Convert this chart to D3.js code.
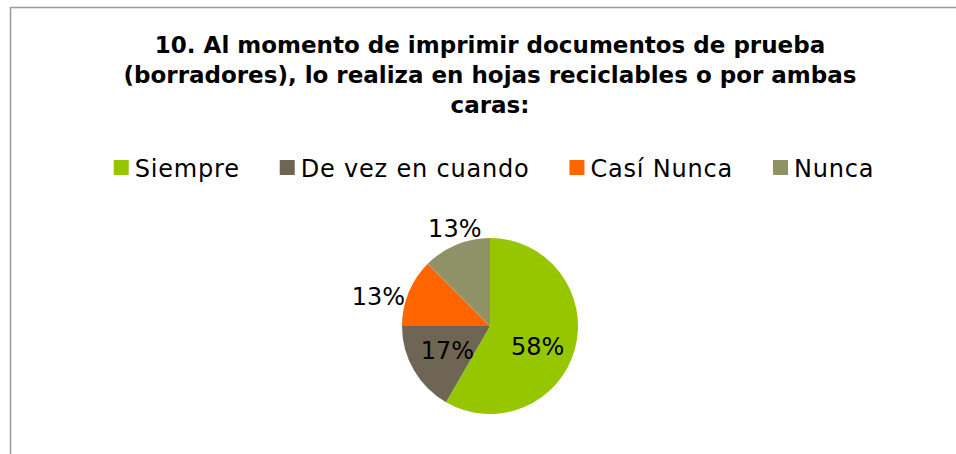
<!DOCTYPE html>
<html>
<head>
<meta charset="utf-8">
<script src="https://cdn.jsdelivr.net/npm/d3@7"></script>
<style>
  body { margin: 0; background: #fff; }
  text { font-family: "DejaVu Sans", sans-serif; fill: #000; }
</style>
</head>
<body>
<script>
// chart data (24 answers)
var categories = ["Siempre", "De vez en cuando", "Casí Nunca", "Nunca"];
var counts = [14, 4, 3, 3];
var colors = ["#95c600", "#6f6554", "#ff6600", "#8f9167"];
var titleLines = ["10. Al momento de imprimir documentos de prueba",
                  "(borradores), lo realiza en hojas reciclables o por ambas",
                  "caras:"];

function main(){
    var w = 956, h = 454;
    var cx = 490, cy = 326, r = 88;

    var svg = d3.select("body").append("svg")
                .attr("width", w)
                .attr("height", h);

    // chart area border (runs off the right and bottom edges)
    svg.append("rect")
       .attr("x", 10.5).attr("y", 7.5)
       .attr("width", 980).attr("height", 500)
       .attr("fill", "none")
       .attr("stroke", "#9a9a9a")
       .attr("stroke-width", 1.5);

    /* title */
    svg.selectAll("text.title")
       .data(titleLines)
       .enter()
       .append("text")
       .attr("class", "title")
       .attr("x", 490)
       .attr("y", (d, i) => 53 + i * 30)
       .attr("text-anchor", "middle")
       .attr("font-size", 23)
       .attr("font-weight", "bold")
       .text(d => d);

    /* legend */
    var leg = svg.append("g").attr("class", "legend");
    var items = leg.selectAll("g")
       .data(categories)
       .enter()
       .append("g");
    items.append("rect")
       .attr("width", 15).attr("height", 15)
       .attr("y", 160)
       .attr("fill", (d, i) => colors[i]);
    items.append("text")
       .attr("x", 21)
       .attr("y", 177)
       .attr("font-size", 24)
       .attr("letter-spacing", 0.8)
       .text(d => d);
    var xpos = 0;
    items.each(function(){
        var g = d3.select(this);
        g.attr("transform", "translate(" + xpos + ",0)");
        xpos += 21 + g.select("text").node().getComputedTextLength() + 40;
    });
    var legW = xpos - 40;
    leg.attr("transform", "translate(" + (494 - legW / 2) + ",0)");

    /* pie */
    var total = d3.sum(counts);
    var pie = d3.pie().sort(null).value(d => d);
    var arcs = pie(counts);
    var arc = d3.arc().innerRadius(0).outerRadius(r);
    var labelArc = d3.arc().innerRadius(0).outerRadius(r * 1.12);

    var g = svg.append("g").attr("transform", "translate(" + cx + "," + cy + ")");
    g.selectAll("path")
     .data(arcs)
     .enter()
     .append("path")
     .attr("d", arc)
     .attr("fill", (d, i) => colors[i]);

    var fmt = d => d3.format(".0f")(Math.round(d.data / total * 100)) + "%";

    g.selectAll("text.lbl")
     .data(arcs)
     .enter()
     .append("text")
     .attr("class", "lbl")
     .attr("font-size", 24)
     .attr("text-anchor", "middle")
     .attr("dy", "0.36em")
     .text(fmt)
     .attr("transform", function(d){
        var a = (d.startAngle + d.endAngle) / 2;
        var s = Math.sin(a), c = -Math.cos(a);
        if (d.endAngle - d.startAngle > 0.9) {
            var p = labelArc.centroid(d);
            // big slice: nudge towards the lower half like the original
            if (d.endAngle - d.startAngle > Math.PI) p[1] += 8;
            return "translate(" + p + ")";
        }
        // small slices: label outside the pie
        var bw = this.getComputedTextLength(), bh = 26;
        var x = s * (r + 4), y = c * (r + 4);
        if (Math.abs(s) > Math.abs(c)) { x += Math.sign(s) * bw / 2; y += 6; }
        else y += Math.sign(c) * bh / 2;
        return "translate(" + x + "," + y + ")";
     });
}

main();
</script>
</body>
</html>
